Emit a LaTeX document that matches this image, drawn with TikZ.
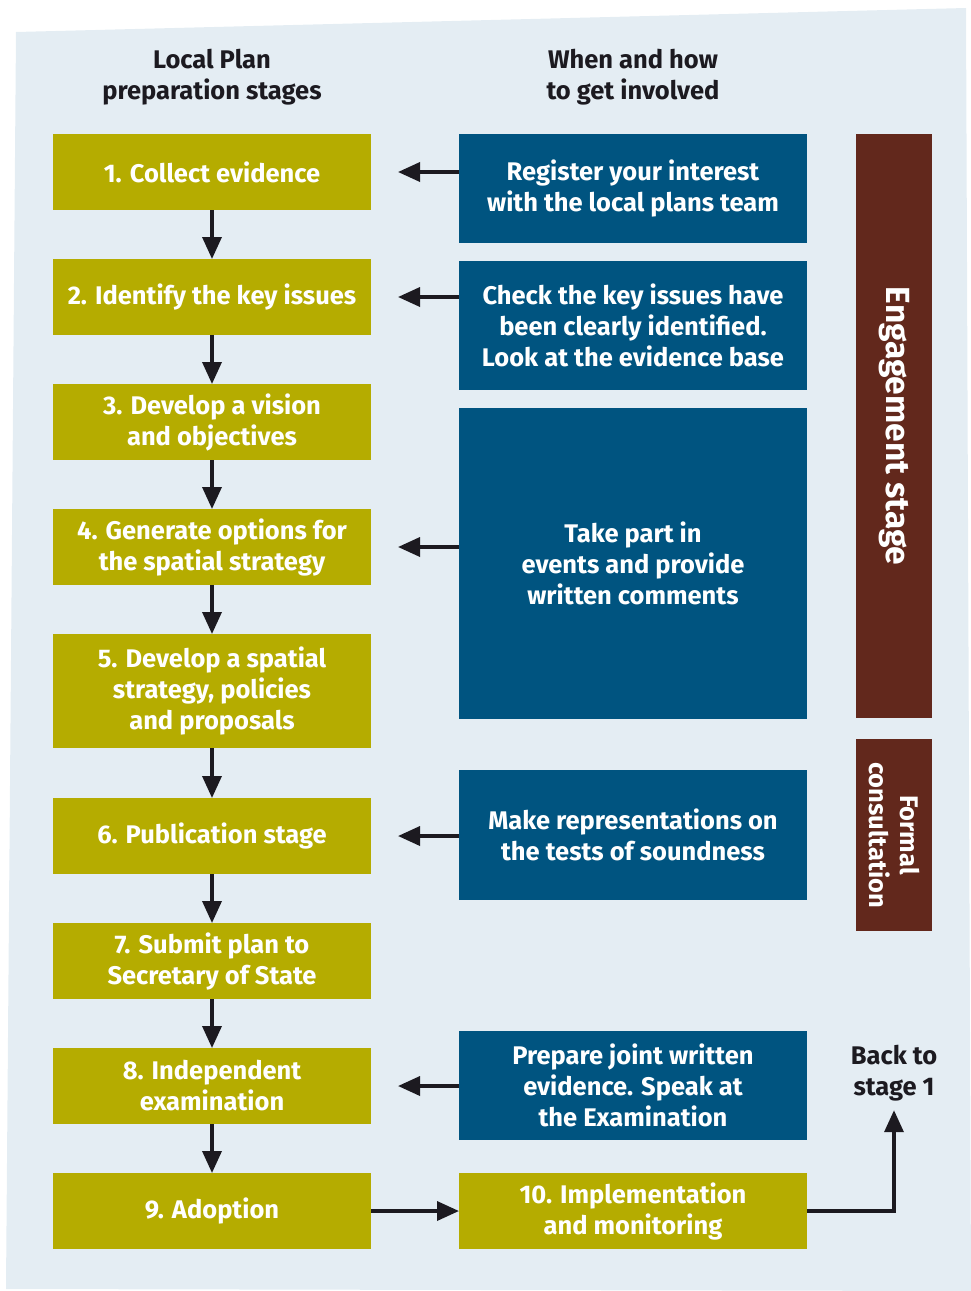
\documentclass[tikz,border=0pt]{standalone}
\usepackage{fontspec}
\setmainfont{Fira Sans}
\usetikzlibrary{positioning,arrows.meta}

\definecolor{stageolive}{RGB}{181,172,0}
\definecolor{actblue}{RGB}{0,84,128}
\definecolor{phasebrown}{RGB}{98,40,28}
\definecolor{panelbg}{RGB}{228,237,243}
\definecolor{inkdark}{RGB}{28,26,32}

\begin{document}
\begin{tikzpicture}[x=1pt,y=-1pt,font={\fontsize{25.5}{31}\selectfont\bfseries},
	stage/.style={minimum width=318pt,minimum height=76pt,inner sep=0pt,outer sep=0pt,fill=stageolive,text=white,align=center},
	act/.style={minimum width=348pt,inner sep=0pt,outer sep=0pt,fill=actblue,text=white,align=center},
	phase/.style={minimum height=76pt,inner sep=0pt,outer sep=0pt,fill=phasebrown,text=white,align=center,rotate=-90},
	head/.style={text=inkdark,align=center,inner sep=0pt},
	arr/.style={-{Triangle[length=22pt,width=19pt]},line width=3.5pt,draw=inkdark}]
	\useasboundingbox (0,0) rectangle (971,1291);
	\fill[panelbg] (16,32) -- (966,8) -- (971,1291) -- (6,1289) -- cycle;

	\node [head] at (212,77) (hleft) {Local Plan\\preparation stages};
	\node [head] at (633,77) (hright) {When and how\\to get involved};

	\node [stage] at (212,172) (s1) {1. Collect evidence};
	\node [stage,below=49pt of s1] (s2) {2. Identify the key issues};
	\node [stage,below=49pt of s2] (s3) {3. Develop a vision\\and objectives};
	\node [stage,below=49pt of s3] (s4) {4. Generate options for\\the spatial strategy};
	\node [stage,minimum height=114pt,below=49pt of s4] (s5) {5. Develop a spatial\\strategy, policies\\and proposals};
	\node [stage,below=50pt of s5] (s6) {6. Publication stage};
	\node [stage,below=49pt of s6] (s7) {7. Submit plan to\\Secretary of State};
	\node [stage,below=49pt of s7] (s8) {8. Independent\\examination};
	\node [stage,below=49pt of s8] (s9) {9. Adoption};

	\node [act,minimum height=109pt] at (633,188.5) (a1) {Register your interest\\with the local plans team};
	\node [act,minimum height=129pt] at (633,325.5) (a2) {Check the key issues have\\been clearly identified.\\Look at the evidence base};
	\node [act,minimum height=311pt] at (633,563.5) (a3) {Take part in\\events and provide\\written comments};
	\node [act,minimum height=130pt] at (633,835) (a4) {Make representations on\\the tests of soundness};
	\node [act,minimum height=109pt] at (633,1085.5) (a5) {Prepare joint written\\evidence. Speak at\\the Examination};
	\node [stage,minimum width=348pt,right=88pt of s9] (s10) {10. Implementation\\and monitoring};

	\node [phase,minimum width=584pt,font={\fontsize{33.5}{40}\selectfont\bfseries}] at (894,426) (eng) {Engagement stage};
	\node [phase,minimum width=192pt] at (894,835) (formal) {Formal\\consultation};
	\node [head] at (894,1073) (back) {Back to\\stage 1};

	\draw[arr] (s1) -- (s2);
	\draw[arr] (s2) -- (s3);
	\draw[arr] (s3) -- (s4);
	\draw[arr] (s4) -- (s5);
	\draw[arr] (s5) -- (s6);
	\draw[arr] (s6) -- (s7);
	\draw[arr] (s7) -- (s8);
	\draw[arr] (s8) -- (s9);

	\draw[arr] (a1.west|-s1.east) -- ([xshift=27pt]s1.east);
	\draw[arr] (a2.west|-s2.east) -- ([xshift=27pt]s2.east);
	\draw[arr] (a3.west|-s4.east) -- ([xshift=27pt]s4.east);
	\draw[arr] (a4.west|-s6.east) -- ([xshift=27pt]s6.east);
	\draw[arr] (a5.west|-s8.east) -- ([xshift=27pt]s8.east);
	\draw[arr] (s9) -- (s10);
	\draw[arr] (s10.east) -| ([yshift=-9pt]back.south);
\end{tikzpicture}
\end{document}
